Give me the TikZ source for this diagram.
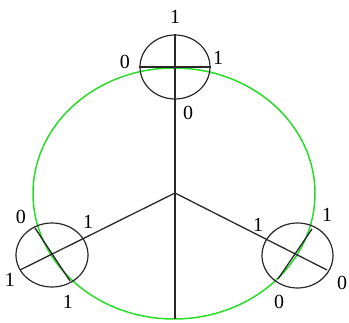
\documentclass[tikz,border=0pt]{standalone}
\usepackage{fontspec}
\setmainfont{Liberation Serif}
\usetikzlibrary{
    shapes.geometric,
    positioning
}
\definecolor{wheelgreen}{RGB}{40,220,40}
\definecolor{inkgray}{RGB}{40,40,40}
\tikzset{
    % Small rings
    ring/.style={
        ellipse,
        draw=inkgray,
        line width=1.2pt,
        inner sep=0pt,
        minimum width=71pt,
        minimum height=64pt
    },
    % Lines
    spoke/.style={
        draw=inkgray,
        line width=1.3pt
    },
    track/.style={
        draw=wheelgreen,
        line width=1.5pt
    },
    % Labels
    bit/.style={
        font=\fontsize{20}{20}\selectfont,
        inner sep=0pt
    }
}
\begin{document}
\begin{tikzpicture}[x=1pt, y=-1pt]

    \useasboundingbox (0,0) rectangle (349,323);

    % Green track
    \draw[track] (174,193.5) ellipse (141 and 125.5);

    % Hub and ends
    \coordinate (hub) at (175,193);
    \coordinate (base) at (175,319);
    \coordinate (leftend) at (20,270);
    \coordinate (rightend) at (327,270);

    % Rings
    \node[ring, minimum width=70pt] (topring) at (175,67) {};
    \node[ring, minimum width=72pt] (leftring) at (52,255) {};
    \node[ring, minimum height=65pt] (rightring) at (297.5,255.5) {};

    % Spokes
    \draw[spoke] (topring.north) -- (base);
    \draw[spoke] (hub) -- (leftend);
    \draw[spoke] (hub) -- (rightend);

    % Chords
    \draw[spoke] (topring.west) -- (topring.east);
    \coordinate (lefttop) at (35,228);
    \coordinate (leftbot) at (70,281);
    \draw[spoke] (lefttop) -- (leftbot);
    \coordinate (righttop) at (312,229);
    \coordinate (rightbot) at (278,279);
    \draw[spoke] (righttop) -- (rightbot);

    % Top labels
    \node[bit] (tnorth) at (175,17) {1};
    \node[bit] (twest) at (125,62) {0};
    \node[bit] (teast) at (218,58) {1};
    \node[bit] (tsouth) at (188,113) {0};

    % Left labels
    \node[bit] (lnw) at (21,217) {0};
    \node[bit] (lne) at (88,222) {1};
    \node[bit] (lsw) at (10,280) {1};
    \node[bit] (lse) at (68,302) {1};

    % Right labels
    \node[bit] (rnw) at (258,225) {1};
    \node[bit] (rne) at (327,215) {1};
    \node[bit] (rse) at (342,283) {0};
    \node[bit] (rsw) at (279,302) {0};

\end{tikzpicture}
\end{document}
